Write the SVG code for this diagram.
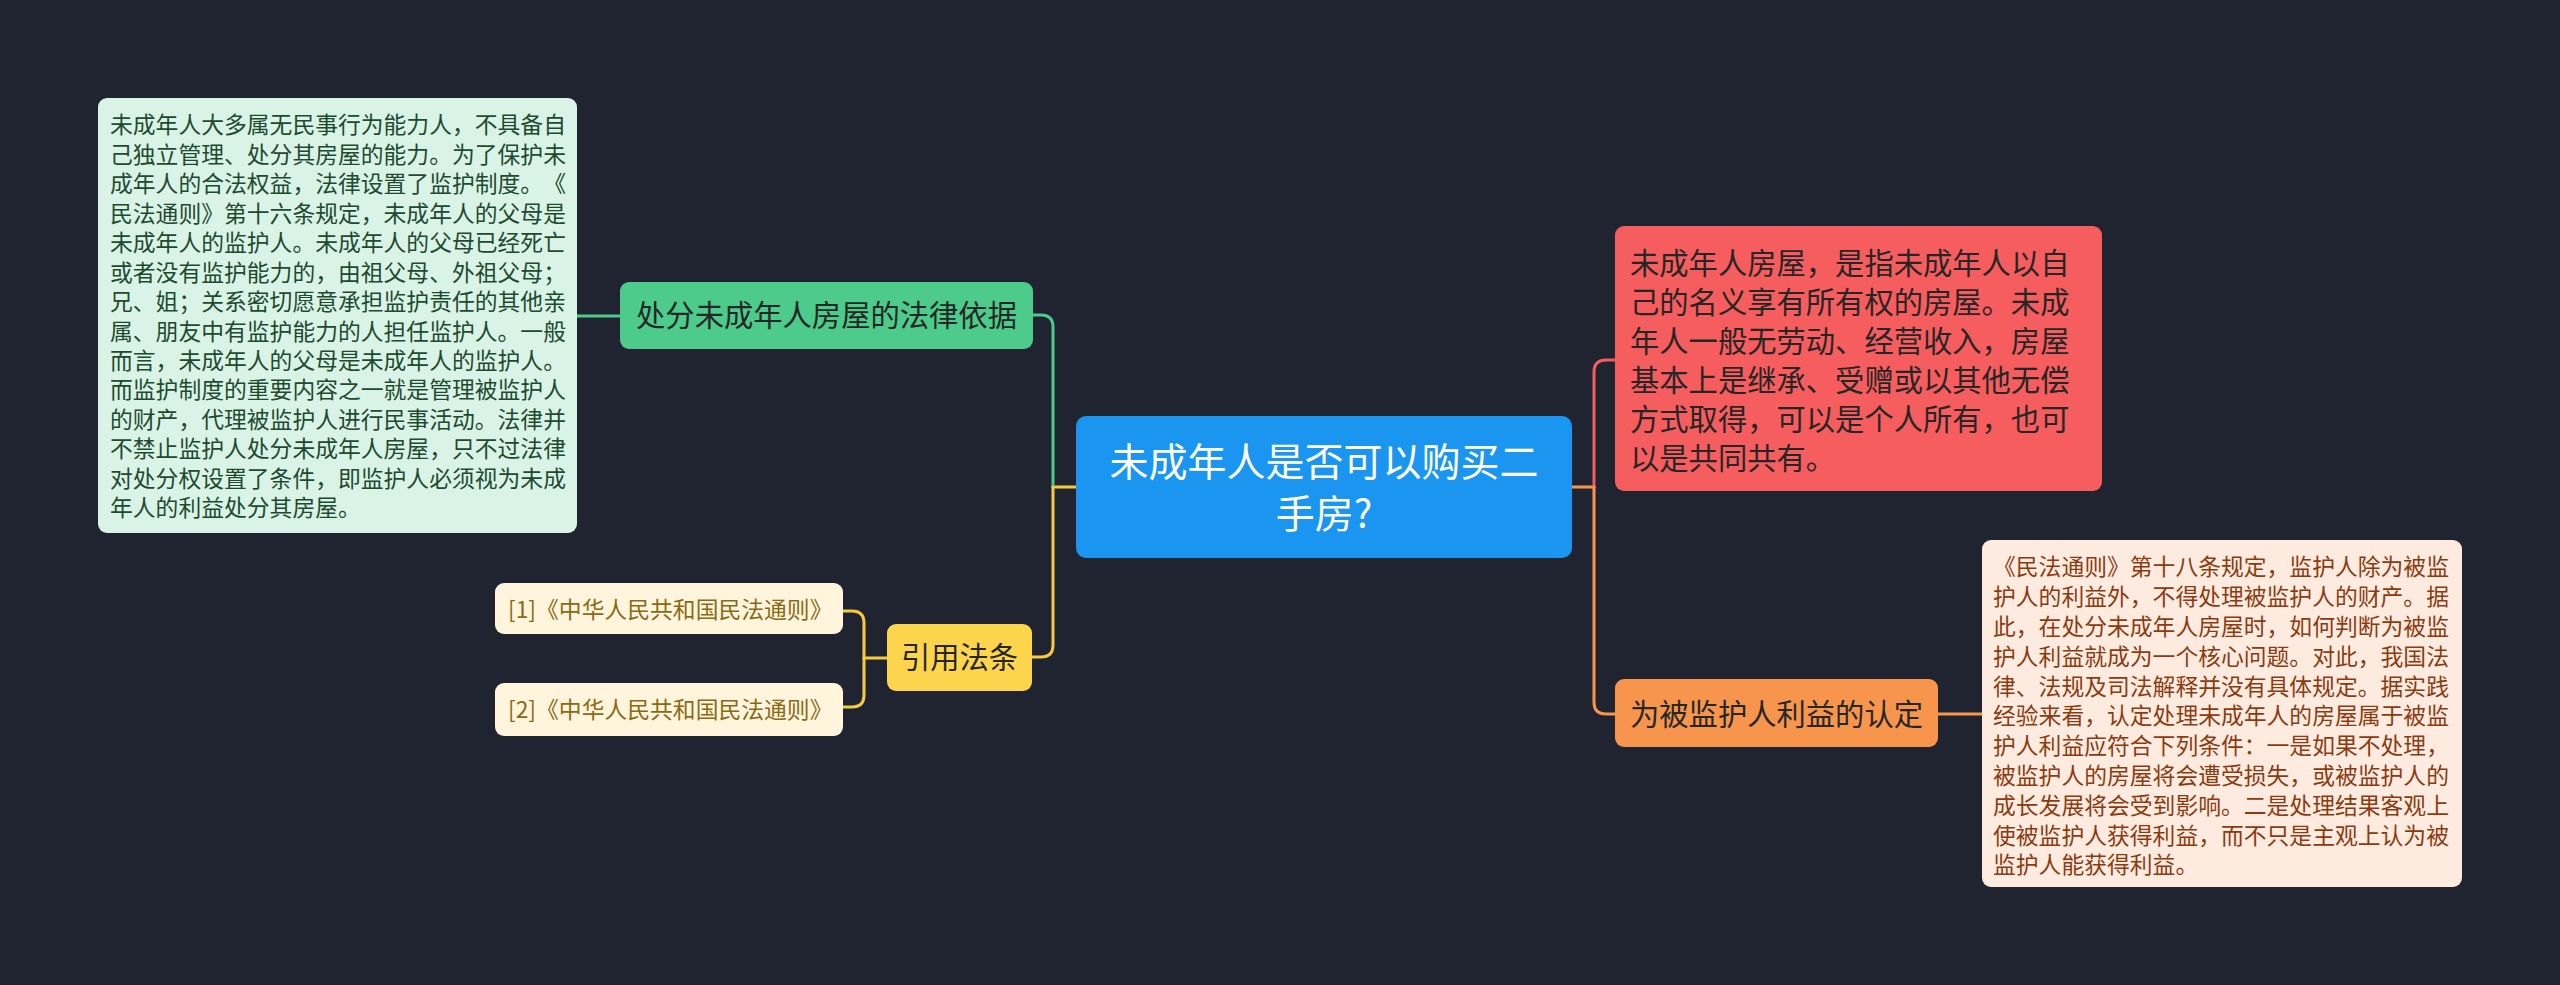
<svg xmlns="http://www.w3.org/2000/svg" width="2560" height="985" viewBox="0 0 2560 985">
<style>
text{font-family:"Noto Sans CJK SC","Noto Sans",sans-serif;text-spacing-trim:space-all}
.conn{fill:none;stroke-width:3;stroke-linecap:round}
.g{stroke:#4ccb8a}.y{stroke:#f6cc3c}.r{stroke:#f45d5d}.o{stroke:#f7954c}
.small{font-size:22.8px}
.mid{font-size:29.3px;fill:#262626}
</style>
<rect width="2560" height="985" fill="#202430"/>
<g id="connectors">
<path class="conn y" d="M1076 487H1053"/>
<path class="conn g" d="M1053 487V327Q1053 315 1041 315H1033"/>
<path class="conn y" d="M1053 487V645Q1053 657 1041 657H1032"/>
<path class="conn g" d="M620 316H577"/>
<path class="conn y" d="M887 658H864"/>
<path class="conn y" d="M864 658V623Q864 611 852 611H843"/>
<path class="conn y" d="M864 658V695Q864 707 852 707H843"/>
<path class="conn o" d="M1572 487H1594"/>
<path class="conn r" d="M1594 487V372Q1594 360 1606 360H1615"/>
<path class="conn o" d="M1594 487V702Q1594 714 1606 714H1615"/>
<path class="conn o" d="M1938 714H1982"/>
</g>
<g id="root">
<rect x="1076" y="416" width="496" height="142" rx="10" fill="#1a96f0"/>
<text x="1324" y="476" font-size="39" fill="#ffffff" text-anchor="middle">未成年人是否可以购买二</text>
<text x="1324" y="528" font-size="39" fill="#ffffff" text-anchor="middle">手房?</text>
</g>
<g id="n-basis">
<rect x="620" y="282" width="413" height="67" rx="9" fill="#4ccb8a"/>
<text x="826.5" y="326" class="mid" fill="#1f3327" text-anchor="middle">处分未成年人房屋的法律依据</text>
</g>
<g id="n-basis-detail">
<rect x="98" y="98" width="479" height="435" rx="9" fill="#d9f4e6"/>
<text class="small" fill="#1e4a30">
<tspan x="110" y="133.3">未成年人大多属无民事行为能力人，不具备自</tspan>
<tspan x="110" y="162.8">己独立管理、处分其房屋的能力。为了保护未</tspan>
<tspan x="110" y="192.2">成年人的合法权益，法律设置了监护制度。《</tspan>
<tspan x="110" y="221.7">民法通则》第十六条规定，未成年人的父母是</tspan>
<tspan x="110" y="251.1">未成年人的监护人。未成年人的父母已经死亡</tspan>
<tspan x="110" y="280.6">或者没有监护能力的，由祖父母、外祖父母；</tspan>
<tspan x="110" y="310.1">兄、姐；关系密切愿意承担监护责任的其他亲</tspan>
<tspan x="110" y="339.5">属、朋友中有监护能力的人担任监护人。一般</tspan>
<tspan x="110" y="369.0">而言，未成年人的父母是未成年人的监护人。</tspan>
<tspan x="110" y="398.4">而监护制度的重要内容之一就是管理被监护人</tspan>
<tspan x="110" y="427.9">的财产，代理被监护人进行民事活动。法律并</tspan>
<tspan x="110" y="457.4">不禁止监护人处分未成年人房屋，只不过法律</tspan>
<tspan x="110" y="486.8">对处分权设置了条件，即监护人必须视为未成</tspan>
<tspan x="110" y="516.3">年人的利益处分其房屋。</tspan>
</text>
</g>
<g id="n-cite">
<rect x="887" y="624" width="145" height="67" rx="9" fill="#fdd54c"/>
<text x="959.5" y="668" class="mid" text-anchor="middle">引用法条</text>
</g>
<g id="n-cite-1">
<rect x="495" y="583" width="348" height="51" rx="9" fill="#fff5dc"/>
<text x="508" y="617.5" class="small" fill="#8a6a14">[1]《中华人民共和国民法通则》</text>
</g>
<g id="n-cite-2">
<rect x="495" y="683" width="348" height="53" rx="9" fill="#fff5dc"/>
<text x="508" y="718" class="small" fill="#8a6a14">[2]《中华人民共和国民法通则》</text>
</g>
<g id="n-definition">
<rect x="1615" y="226" width="487" height="265" rx="9" fill="#f65d5e"/>
<text class="mid">
<tspan x="1630" y="274">未成年人房屋，是指未成年人以自</tspan>
<tspan x="1630" y="313">己的名义享有所有权的房屋。未成</tspan>
<tspan x="1630" y="352">年人一般无劳动、经营收入，房屋</tspan>
<tspan x="1630" y="391">基本上是继承、受赠或以其他无偿</tspan>
<tspan x="1630" y="430">方式取得，可以是个人所有，也可</tspan>
<tspan x="1630" y="469">以是共同共有。</tspan>
</text>
</g>
<g id="n-interest">
<rect x="1615" y="679" width="323" height="68" rx="9" fill="#f7954c"/>
<text x="1776.5" y="724.5" class="mid" text-anchor="middle">为被监护人利益的认定</text>
</g>
<g id="n-interest-detail">
<rect x="1982" y="540" width="480" height="347" rx="9" fill="#fdebe0"/>
<text class="small" fill="#8c3b10">
<tspan x="1993" y="575.3">《民法通则》第十八条规定，监护人除为被监</tspan>
<tspan x="1993" y="605.1">护人的利益外，不得处理被监护人的财产。据</tspan>
<tspan x="1993" y="634.9">此，在处分未成年人房屋时，如何判断为被监</tspan>
<tspan x="1993" y="664.7">护人利益就成为一个核心问题。对此，我国法</tspan>
<tspan x="1993" y="694.5">律、法规及司法解释并没有具体规定。据实践</tspan>
<tspan x="1993" y="724.3">经验来看，认定处理未成年人的房屋属于被监</tspan>
<tspan x="1993" y="754.1">护人利益应符合下列条件：一是如果不处理，</tspan>
<tspan x="1993" y="783.9">被监护人的房屋将会遭受损失，或被监护人的</tspan>
<tspan x="1993" y="813.7">成长发展将会受到影响。二是处理结果客观上</tspan>
<tspan x="1993" y="843.5">使被监护人获得利益，而不只是主观上认为被</tspan>
<tspan x="1993" y="873.3">监护人能获得利益。</tspan>
</text>
</g>
</svg>
